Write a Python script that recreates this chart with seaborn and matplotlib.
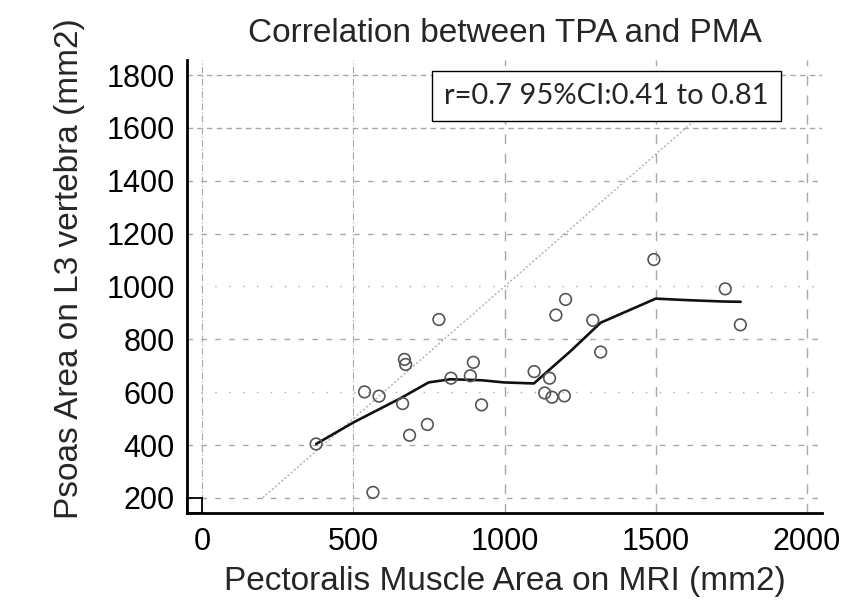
import matplotlib
matplotlib.use("Agg")
import matplotlib.pyplot as plt
import seaborn as sns
import pandas as pd
from matplotlib.patches import Rectangle
from matplotlib.ticker import MultipleLocator

# Data
pma = [377, 565, 537, 585, 663, 669, 673, 686, 745, 783, 823, 887, 897, 924,
       1098, 1149, 1133, 1157, 1198, 1170, 1202, 1292, 1318, 1494, 1730, 1780]
tpa = [404, 221, 601, 585, 557, 724, 705, 437, 478, 875, 653, 662, 713, 552,
       678, 653, 597, 581, 586, 892, 951, 872, 752, 1102, 991, 855]

fit_x = [377, 501, 656, 749, 821, 926, 998, 1097, 1219, 1318, 1500, 1610, 1726, 1781]
fit_y = [404, 486, 577, 637, 649, 645, 637, 633, 756, 863, 954, 948, 943, 942]

identity = [200, 1800]

x_ticks = [0, 500, 1000, 1500, 2000]
y_ticks = [200, 400, 600, 800, 1000, 1200, 1400, 1600, 1800]

title = "Correlation between TPA and PMA"
xlabel = "Pectoralis Muscle Area on MRI (mm2)"
ylabel = "Psoas Area on L3 vertebra (mm2)"
annot = "r=0.7 95%CI:0.41 to 0.81"

sns.set_style("white")
plt.rcParams["font.family"] = ["Liberation Sans", "DejaVu Sans"]

fig = plt.figure(figsize=(8.63, 6.07), dpi=100)
ax = fig.add_axes([0.2167, 0.1549, 0.7358, 0.7463])

pts = pd.DataFrame({"PMA": pma, "TPA": tpa})
fit = pd.DataFrame({"x": fit_x, "y": fit_y})
idl = pd.DataFrame({"x": identity, "y": identity})

ax.set_xlim(-50, 2050)
ax.set_ylim(143, 1857)

# grid
ax.set_xticks(x_ticks)
ax.set_yticks(y_ticks)
ax.yaxis.set_minor_locator(MultipleLocator(100))
ax.grid(True, which="major", color="#a8a8a8", linewidth=1.0, zorder=0)
for val, gl in zip(y_ticks, ax.get_ygridlines()):
    if val in (600, 1000):
        gl.set_dashes([1, 9])
    elif val in (1600, 1800):
        gl.set_dashes([4, 3])
    else:
        gl.set_dashes([4, 6])
for val, gl in zip(x_ticks, ax.get_xgridlines()):
    if val in (0, 500):
        gl.set_dashes([6, 2, 1, 2])
        gl.set_linewidth(0.8)
    else:
        gl.set_dashes([7, 7])

sns.lineplot(data=idl, x="x", y="y", ax=ax, color="#b0b0b0", linewidth=1.0,
             linestyle=(0, (1.5, 1.5)), zorder=2)
sns.lineplot(data=fit, x="x", y="y", ax=ax, sort=False, color="#111111",
             linewidth=1.9, zorder=3)
sns.scatterplot(data=pts, x="PMA", y="TPA", ax=ax, marker="o", s=70,
                facecolor="none", edgecolor="#555555", linewidth=1.2, zorder=4)

# corner square
ax.add_patch(Rectangle((-50, 143), 50, 57, fill=False, edgecolor="black",
                       linewidth=1.3, zorder=5, clip_on=False))

ax.text(1338, 1721, annot, ha="center", va="center", fontsize=21,
        family=["Lato", "DejaVu Sans"], zorder=6,
        bbox=dict(boxstyle="square,pad=0.42", facecolor="white",
                  edgecolor="black", linewidth=1.0))

for s in ["top", "right"]:
    ax.spines[s].set_visible(False)
for s in ["left", "bottom"]:
    ax.spines[s].set_color("black")
    ax.spines[s].set_linewidth(2.0)

ax.tick_params(axis="both", which="major", direction="in", length=10, width=1.6,
               colors="black", labelsize=22)
ax.tick_params(axis="y", which="minor", direction="in", length=6, width=1.6,
               colors="black")
ax.tick_params(axis="x", pad=10)
ax.tick_params(axis="y", pad=9)

ax.set_title(title, fontsize=24, pad=13)
ax.set_xlabel(xlabel, fontsize=24)
ax.set_ylabel(ylabel, fontsize=24)
ax.xaxis.set_label_coords(0.5, -0.117)
ax.yaxis.set_label_coords(-0.16, 0.54)

fig.savefig("out.png", dpi=100, facecolor="white")
